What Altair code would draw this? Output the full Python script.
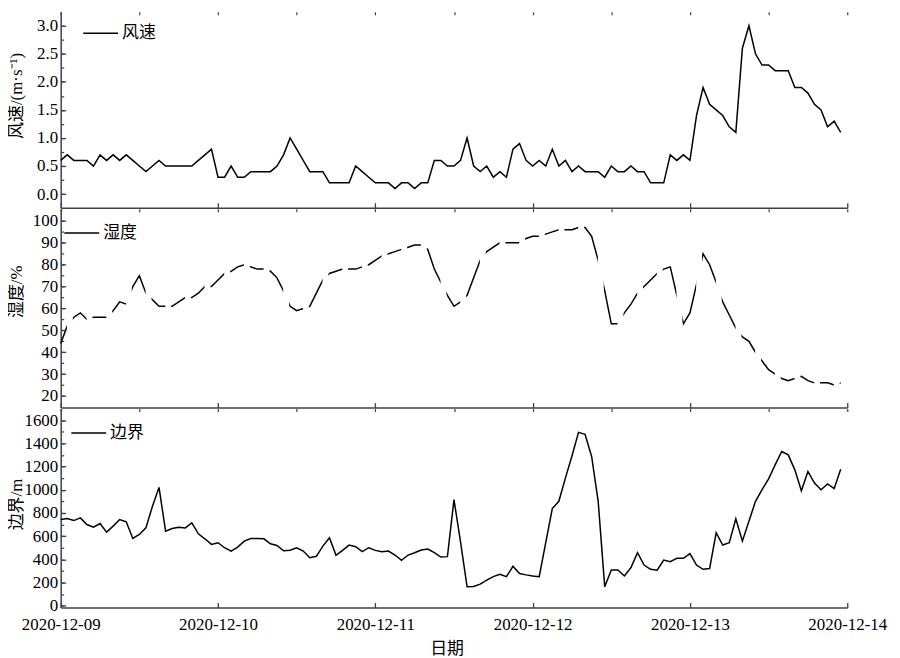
import altair as alt
import pandas as pd

# ---------------- data (hourly, 2020-12-09 00:00 .. 2020-12-13 23:00) ----------------
times = pd.date_range("2020-12-09 00:00", periods=120, freq="h").strftime("%Y-%m-%dT%H:%M:%S").tolist()

wind = [
    0.6, 0.7, 0.6, 0.6, 0.6, 0.5, 0.7, 0.6, 0.7, 0.6,
    0.7, 0.6, 0.5, 0.4, 0.5, 0.6, 0.5, 0.5, 0.5, 0.5,
    0.5, 0.6, 0.7, 0.8, 0.3, 0.3, 0.5, 0.3, 0.3, 0.4,
    0.4, 0.4, 0.4, 0.5, 0.7, 1.0, 0.8, 0.6, 0.4, 0.4,
    0.4, 0.2, 0.2, 0.2, 0.2, 0.5, 0.4, 0.3, 0.2, 0.2,
    0.2, 0.1, 0.2, 0.2, 0.1, 0.2, 0.2, 0.6, 0.6, 0.5,
    0.5, 0.6, 1.0, 0.5, 0.4, 0.5, 0.3, 0.4, 0.3, 0.8,
    0.9, 0.6, 0.5, 0.6, 0.5, 0.8, 0.5, 0.6, 0.4, 0.5,
    0.4, 0.4, 0.4, 0.3, 0.5, 0.4, 0.4, 0.5, 0.4, 0.4,
    0.2, 0.2, 0.2, 0.7, 0.6, 0.7, 0.6, 1.4, 1.9, 1.6,
    1.5, 1.4, 1.2, 1.1, 2.6, 3.0, 2.5, 2.3, 2.3, 2.2,
    2.2, 2.2, 1.9, 1.9, 1.8, 1.6, 1.5, 1.2, 1.3, 1.1,
]

humidity = [
    44, 52, 56, 58, 55, 56, 56, 56, 59, 63,
    62, 70, 75, 67, 64, 61, 61, 61, 63, 65,
    65, 67, 70, 70, 73, 76, 77, 79, 80, 79,
    78, 78, 77, 74, 68, 61, 59, 60, 61, 67,
    73, 76, 77, 78, 78, 78, 79, 80, 82, 84,
    85, 86, 87, 88, 89, 89, 87, 78, 72, 66,
    61, 63, 66, 74, 82, 86, 88, 90, 90, 90,
    90, 92, 93, 93, 94, 95, 96, 96, 96, 97,
    97, 93, 82, 68, 53, 53, 58, 62, 67, 70,
    73, 76, 78, 79, 66, 53, 58, 71, 85, 80,
    72, 63, 57, 51, 47, 45, 40, 36, 32, 30,
    28, 27, 28, 29, 27, 26, 26, 26, 25, 26,
]

boundary = [
    743, 751, 734, 757, 700, 677, 708, 634, 686, 743,
    723, 580, 614, 671, 857, 1020, 643, 666, 677, 671,
    714, 620, 577, 529, 543, 500, 471, 506, 557, 580,
    580, 577, 534, 520, 474, 478, 500, 471, 414, 426,
    514, 586, 434, 477, 523, 509, 466, 500, 477, 466,
    471, 437, 391, 437, 457, 480, 489, 457, 420, 423,
    914, 550, 163, 166, 186, 220, 251, 271, 251, 340,
    277, 266, 257, 251, 544, 837, 900, 1100, 1290, 1494,
    1477, 1286, 900, 163, 309, 309, 257, 329, 457, 351,
    314, 306, 394, 380, 409, 409, 449, 351, 314, 320,
    629, 523, 543, 749, 557, 729, 900, 1000, 1094, 1214,
    1329, 1300, 1171, 991, 1157, 1057, 1000, 1049, 1009, 1177,
]

wind_ticks = [i * 0.25 for i in range(13)]
humidity_ticks = [20 + 5 * i for i in range(17)]
boundary_ticks = [100 * i for i in range(17)]

df = pd.DataFrame({"time": times, "wind": wind, "humidity": humidity, "boundary": boundary})

# dash pattern of the humidity curve (gaps repeat every 3 h along x)
base = pd.Timestamp("2020-12-09 00:00")
gap_hours = [0.95 + 3 * n for n in range(40)]
gaps = pd.DataFrame({
    "start": [(base + pd.Timedelta(hours=h)).strftime("%Y-%m-%dT%H:%M:%S") for h in gap_hours],
    "end": [(base + pd.Timedelta(hours=h + 0.9)).strftime("%Y-%m-%dT%H:%M:%S") for h in gap_hours],
    "lo": [20.0] * len(gap_hours),
    "hi": [100.0] * len(gap_hours),
})

# ---------------- styling ----------------
AXIS_COLOR = "#404040"
NUM_FONT = "Liberation Serif, Times New Roman, Times, serif"
CJK_FONT = "Liberation Serif, Times New Roman, Noto Sans CJK SC, serif"
W = 791

x_domain = [alt.DateTime(year=2020, month=12, date=9, hours=0),
            alt.DateTime(year=2020, month=12, date=14, hours=0)]
x_values = [alt.DateTime(year=2020, month=12, date=9 + i // 2, hours=12 * (i % 2)) for i in range(11)]
x_scale = alt.Scale(domain=x_domain, nice=False)
X_MAJOR = "hours(datum.value) == 0"


def x_axis(show_labels):
    kw = dict(
        values=x_values,
        tickSize={"expr": "-5"},
        tickOpacity={"condition": {"test": X_MAJOR, "value": 1}, "value": 0},
        grid=True, gridDash=[3, 5000], gridColor=AXIS_COLOR, gridWidth=1.2,
        labelFlush=False, labelOverlap=False, labelFont=NUM_FONT,
    )
    if show_labels:
        kw.update(
            labels=True,
            labelExpr=f"{X_MAJOR} ? timeFormat(datum.value, '%Y-%m-%d') : ''",
            labelPadding=14,
            title="日期", titleX=388, titleY=41, titleBaseline="middle", titleFont=CJK_FONT,
        )
    else:
        kw.update(labels=False, title=None)
    return alt.Axis(**kw)


def y_axis(title, values, major_test, fmt, title_y):
    return alt.Axis(
        values=values,
        title=title,
        labelExpr=f"({major_test}) ? format(datum.value, '{fmt}') : ''",
        tickSize={"expr": "-5"},
        tickOpacity={"condition": {"test": major_test, "value": 1}, "value": 0},
        grid=True, gridDash=[3, 5000], gridColor=AXIS_COLOR, gridWidth=1.2,
        labelPadding=8, labelOverlap=False, labelFont=NUM_FONT,
        titleX=-44, titleY=title_y, titleBaseline="middle", titleAlign="center", titleFont=CJK_FONT,
    )


def legend(x, y):
    return alt.Legend(
        orient="none", legendX=x, legendY=y, title=None,
        symbolType="stroke", symbolSize=1225, symbolStrokeWidth=1.5,
        labelFont="Noto Sans CJK SC", labelFontSize=17, labelColor="black",
        labelOffset=3, padding=0,
    )


black = alt.Scale(range=["black"])

# ---------------- panel 1: wind ----------------
p1 = alt.Chart(df).transform_calculate(series="'风速'").mark_line(strokeWidth=1.5).encode(
    x=alt.X("time:T", scale=x_scale, axis=x_axis(False)),
    y=alt.Y("wind:Q", scale=alt.Scale(domain=[-0.243, 3.249], nice=False, zero=False),
            axis=y_axis("风速/(m·s⁻¹)", wind_ticks,
                        "abs(datum.value*2 - round(datum.value*2)) < 0.001", ".1f", 84)),
    color=alt.Color("series:N", scale=black, legend=legend(21.7, 3)),
).properties(width=W, height=197)

# ---------------- panel 2: humidity ----------------
hum_scale = alt.Scale(domain=[14.7, 105.6], nice=False, zero=False)
hum_axis = y_axis("湿度/%", humidity_ticks, "datum.value % 10 == 0", "d", 83)
hum_line = alt.Chart(df).transform_calculate(series="'湿度'").mark_line(strokeWidth=1.5).encode(
    x=alt.X("time:T", scale=x_scale, axis=x_axis(False)),
    y=alt.Y("humidity:Q", scale=hum_scale, axis=hum_axis),
    color=alt.Color("series:N", scale=black, legend=legend(2.7, 6)),
)
hum_gaps = alt.Chart(gaps).mark_rect(color="white").encode(
    x=alt.X("start:T", scale=x_scale, axis=x_axis(False)),
    x2="end:T",
    y=alt.Y("lo:Q", scale=hum_scale, axis=hum_axis),
    y2="hi:Q",
)
p2 = alt.layer(hum_line, hum_gaps).properties(width=W, height=200)

# ---------------- panel 3: boundary layer ----------------
p3 = alt.Chart(df).transform_calculate(series="'边界'").mark_line(strokeWidth=1.5).encode(
    x=alt.X("time:T", scale=x_scale, axis=x_axis(True)),
    y=alt.Y("boundary:Q", scale=alt.Scale(domain=[-14.6, 1699], nice=False, zero=False),
            axis=y_axis("边界/m", boundary_ticks, "datum.value % 200 == 0", "d", 96)),
    color=alt.Color("series:N", scale=black, legend=legend(9.7, 6)),
).properties(width=W, height=200)

chart = (
    alt.vconcat(p1, p2, p3, spacing=0)
    .resolve_scale(color="independent")
    .resolve_legend(color="independent")
    .properties(padding={"left": 0, "top": 2, "right": 5, "bottom": 0})
    .configure_view(stroke=None)
    .configure_axis(
        domainColor=AXIS_COLOR, domainWidth=1.5,
        tickColor=AXIS_COLOR, tickWidth=1.3,
        labelFont=NUM_FONT, labelFontSize=17, labelColor="black",
        titleFont=CJK_FONT, titleFontSize=17, titleFontWeight="normal", titleColor="black",
    )
)

chart.save("out.html", embed_options={"renderer": "svg", "actions": False})
